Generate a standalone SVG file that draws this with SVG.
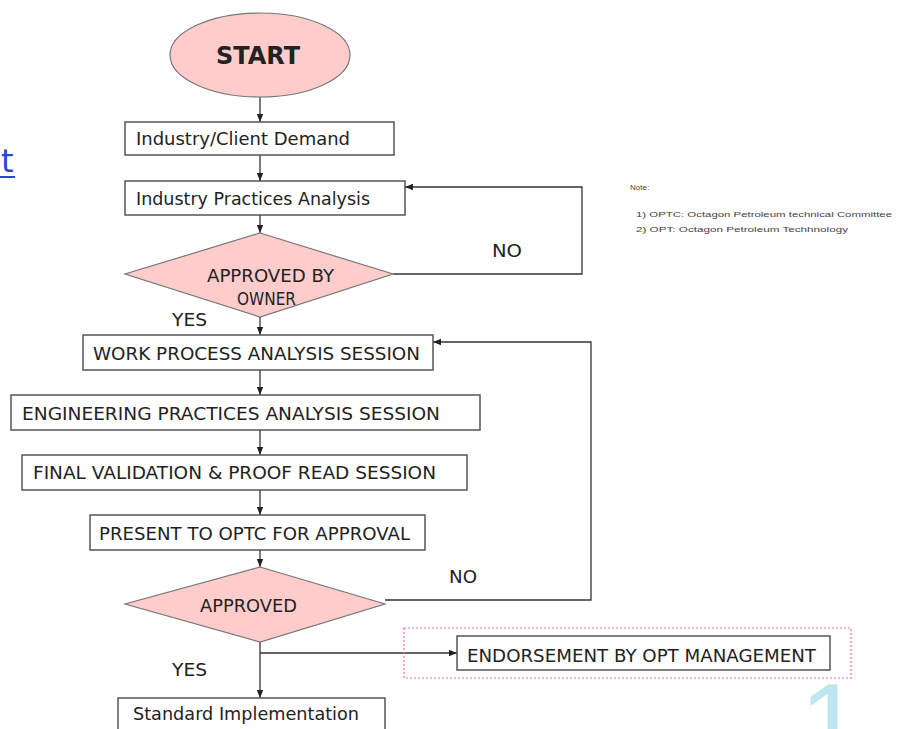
<svg xmlns="http://www.w3.org/2000/svg" width="908" height="729" viewBox="0 0 908 729">
<style>
.box{fill:#fff;stroke:#555;stroke-width:1.5}
.dec{fill:#ffcccc;stroke:#777;stroke-width:1.2}
.t{font-family:"DejaVu Sans",Verdana,sans-serif;font-size:17px;fill:#222}
.c{fill:none;stroke:#333;stroke-width:1.3;marker-end:url(#ah)}
.n{font-family:"Liberation Sans",Arial,sans-serif;font-size:8px;fill:#444}
</style>
<defs>
<marker id="ah" viewBox="0 0 10 10" refX="10" refY="5" markerWidth="8" markerHeight="8" markerUnits="userSpaceOnUse" orient="auto">
<path d="M0,1 L10,5 L0,9 Z" fill="#222"/>
</marker>
</defs>
<rect width="908" height="729" fill="#fff"/>
<text x="1" y="172" font-family="Verdana,'DejaVu Sans',sans-serif" font-size="32" fill="#2a48d8">t</text>
<rect x="0" y="176" width="15" height="2" fill="#2a48d8"/>
<text x="800" y="760" font-family="'Liberation Sans',Arial,sans-serif" font-size="110" fill="#bfe6ee">1</text>
<g id="connectors">
<path class="c" d="M260,97 V122"/>
<path class="c" d="M260,155 V181"/>
<path class="c" d="M260,215 V233"/>
<path class="c" d="M393,274 H582 V187 H405"/>
<path class="c" d="M260,317 V335"/>
<path class="c" d="M260,370 V395"/>
<path class="c" d="M260,430 V455"/>
<path class="c" d="M260,490 V515"/>
<path class="c" d="M260,550 V567"/>
<path class="c" d="M385,600 H591 V342 H433"/>
<path class="c" d="M260,642 V698"/>
<path class="c" d="M260,653 H457"/>
<text class="t" x="492" y="257" textLength="30" lengthAdjust="spacingAndGlyphs">NO</text>
<text class="t" x="172" y="326" textLength="35" lengthAdjust="spacingAndGlyphs">YES</text>
<text class="t" x="449" y="583" textLength="28" lengthAdjust="spacingAndGlyphs">NO</text>
<text class="t" x="172" y="676" textLength="35" lengthAdjust="spacingAndGlyphs">YES</text>
</g>
<g id="start">
<ellipse cx="260" cy="55" rx="90" ry="42" class="dec"/>
<text x="216" y="64" font-family="'DejaVu Sans',Verdana,sans-serif" font-weight="bold" font-size="24" fill="#222" textLength="84" lengthAdjust="spacingAndGlyphs">START</text>
</g>
<g id="client-demand">
<rect class="box" x="125" y="122" width="269" height="33"/>
<text class="t" x="136" y="145" textLength="214" lengthAdjust="spacingAndGlyphs">Industry/Client Demand</text>
</g>
<g id="practices-analysis">
<rect class="box" x="125" y="181" width="280" height="34"/>
<text class="t" x="136" y="205" textLength="234" lengthAdjust="spacingAndGlyphs">Industry Practices Analysis</text>
</g>
<g id="approved-owner">
<path class="dec" d="M260,233 L393,274 L260,317 L125,274 Z"/>
<text class="t" x="207" y="282" textLength="127" lengthAdjust="spacingAndGlyphs">APPROVED BY</text>
<text class="t" x="237" y="305" textLength="59" lengthAdjust="spacingAndGlyphs">OWNER</text>
</g>
<g id="work-process">
<rect class="box" x="83" y="335" width="350" height="35"/>
<text class="t" x="93" y="360" textLength="327" lengthAdjust="spacingAndGlyphs">WORK PROCESS ANALYSIS SESSION</text>
</g>
<g id="engineering">
<rect class="box" x="11" y="395" width="469" height="35"/>
<text class="t" x="22" y="420" textLength="418" lengthAdjust="spacingAndGlyphs">ENGINEERING PRACTICES ANALYSIS SESSION</text>
</g>
<g id="final-validation">
<rect class="box" x="22" y="455" width="445" height="35"/>
<text class="t" x="33" y="479" textLength="403" lengthAdjust="spacingAndGlyphs">FINAL VALIDATION &amp; PROOF READ SESSION</text>
</g>
<g id="present-optc">
<rect class="box" x="90" y="515" width="335" height="35"/>
<text class="t" x="99" y="540" textLength="311" lengthAdjust="spacingAndGlyphs">PRESENT TO OPTC FOR APPROVAL</text>
</g>
<g id="approved">
<path class="dec" d="M260,567 L385,604 L260,642 L125,604 Z"/>
<text class="t" x="200" y="612" textLength="97" lengthAdjust="spacingAndGlyphs">APPROVED</text>
</g>
<g id="endorsement">
<rect x="404" y="628" width="447" height="50" fill="none" stroke="#f06a9a" stroke-width="1.2" stroke-dasharray="2,2"/>
<rect class="box" x="457" y="636" width="373" height="34"/>
<text class="t" x="467" y="662" textLength="349" lengthAdjust="spacingAndGlyphs">ENDORSEMENT BY OPT MANAGEMENT</text>
</g>
<g id="implementation">
<rect class="box" x="118" y="698" width="267" height="34"/>
<text class="t" x="133" y="720" textLength="226" lengthAdjust="spacingAndGlyphs">Standard Implementation</text>
</g>
<g id="note">
<text class="n" x="630" y="190">Note:</text>
<text class="n" x="636" y="217" textLength="256" lengthAdjust="spacingAndGlyphs">1) OPTC:  Octagon Petroleum  technical Committee</text>
<text class="n" x="636" y="232" textLength="212" lengthAdjust="spacingAndGlyphs">2) OPT:  Octagon Petroleum  Techhnology</text>
</g>
</svg>
